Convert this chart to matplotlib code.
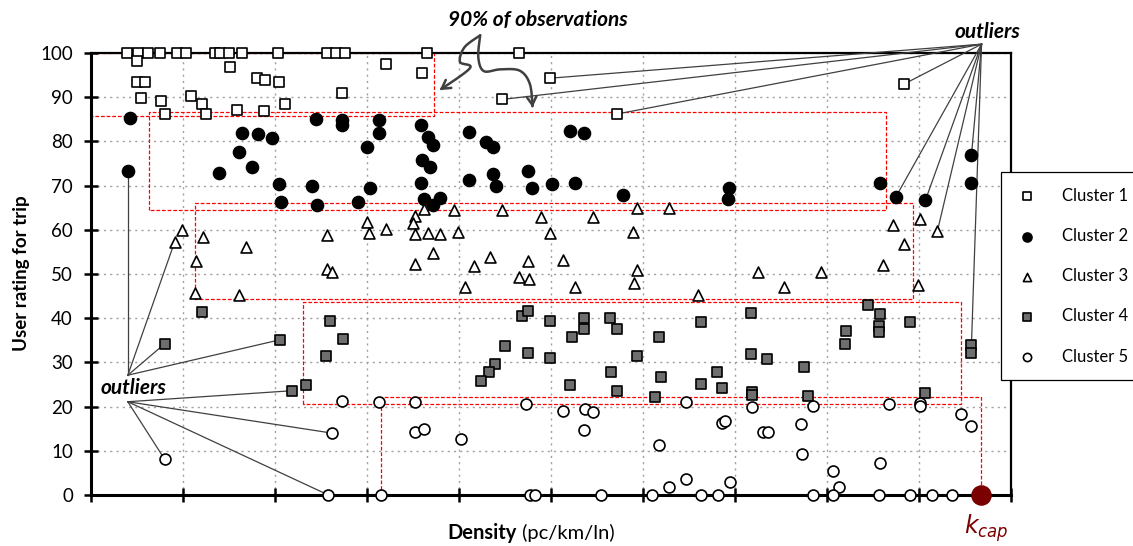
import numpy as np
import matplotlib
matplotlib.use("Agg")
import matplotlib.pyplot as plt
from matplotlib.path import Path
from matplotlib.patches import FancyArrowPatch

plt.rcParams['font.family'] = ['Lato', 'DejaVu Sans']

# cluster data (density, rating)
c1_x = [3.9, 5.1, 6.2, 7.5, 9.3, 10.3, 13.5, 14.0, 15.0, 16.4, 20.3, 25.7, 26.6, 27.6, 36.5, 46.5,
        5.0, 5.0, 5.9, 5.4, 7.6, 8.0, 10.9, 12.1, 12.5, 15.1, 15.9, 18.0, 18.9, 20.4, 18.8, 21.1,
        27.3, 32.1, 36.0, 44.7, 49.9, 57.2, 88.4]
c1_y = [100] * 16 + [98.3, 93.4, 93.4, 89.9, 89.2, 86.2, 90.3, 88.5, 86.1, 96.8, 87.1, 94.3, 93.9,
                     93.4, 86.8, 88.5, 90.9, 97.5, 95.5, 89.5, 94.3, 86.2, 93.0]

c2_x = [4.2, 4.0, 16.4, 18.1, 19.7, 16.1, 17.5, 13.9, 20.4, 20.6, 24.0, 24.6, 24.5, 27.3, 27.3, 29.0,
        30.0, 30.3, 31.3, 31.3, 35.9, 36.6, 37.2, 36.0, 36.8, 35.9, 36.2, 37.2, 37.9, 41.1, 41.1,
        42.9, 43.7, 43.7, 44.0, 47.5, 47.9, 50.1, 52.1, 53.6, 52.6, 57.8, 69.3, 69.2, 85.8, 87.5,
        90.7, 95.7, 95.7]
c2_y = [85.2, 73.4, 82.0, 81.6, 80.7, 77.7, 74.1, 72.8, 70.4, 66.4, 69.9, 65.6, 85.1, 84.8, 83.7, 66.4,
        78.8, 69.5, 84.8, 81.8, 83.7, 81.1, 79.2, 75.9, 74.3, 70.7, 66.9, 65.6, 67.1, 82.2, 71.3,
        79.9, 78.8, 72.6, 69.9, 73.4, 69.5, 70.3, 82.4, 81.8, 70.5, 67.9, 69.4, 66.9, 70.7, 67.5,
        66.7, 76.9, 70.7]

c3_x = [9.9, 9.1, 12.2, 11.4, 11.3, 16.8, 16.1, 25.7, 25.6, 26.2, 30.0, 30.2, 32.1, 35.2, 35.0, 35.2,
        36.6, 37.9, 37.2, 35.2, 36.2, 39.5, 39.9, 44.7, 48.9, 41.6, 43.4, 40.7, 47.5, 46.5, 47.6,
        54.6, 59.4, 62.8, 49.9, 58.9, 51.3, 52.6, 59.4, 59.0, 66.0, 72.5, 79.4, 75.3, 87.2, 90.1,
        88.4, 86.1, 89.9, 92.0]
c3_y = [60.0, 57.3, 58.3, 52.9, 45.8, 56.2, 45.2, 58.8, 51.1, 50.4, 61.8, 59.3, 60.2, 63.1, 61.6, 59.0,
        59.2, 59.0, 54.8, 52.3, 64.6, 64.5, 59.6, 64.5, 63.0, 51.7, 53.9, 47.1, 52.9, 49.4, 48.9,
        62.8, 64.9, 64.9, 59.3, 59.4, 53.2, 47.1, 50.9, 47.9, 45.2, 50.5, 50.5, 47.1, 61.1, 62.4,
        56.9, 52.0, 47.5, 59.7]

c4_x = [12.1, 8.0, 20.5, 21.9, 23.4, 26.0, 27.4, 25.5, 45.0, 46.8, 47.5, 47.5, 43.9, 43.3, 42.4, 49.9,
        49.9, 53.6, 53.6, 52.3, 56.4, 57.2, 56.5, 52.1, 57.2, 59.4, 61.7, 62.0, 61.3, 66.3, 66.3,
        68.0, 68.6, 71.7, 71.7, 73.5, 71.9, 71.9, 77.5, 77.9, 84.5, 85.8, 85.7, 85.7, 82.1, 82.0,
        89.0, 90.7, 95.7, 95.7]
c4_y = [41.5, 34.2, 35.1, 23.6, 25.0, 39.4, 35.2, 31.5, 33.6, 40.5, 41.6, 32.1, 29.6, 27.9, 25.8, 31.1,
        39.4, 40.1, 37.5, 35.8, 40.0, 37.5, 27.9, 24.9, 23.5, 31.5, 35.8, 26.8, 22.2, 39.1, 25.1,
        27.8, 24.1, 41.2, 31.8, 30.8, 23.4, 22.6, 29.0, 22.4, 43.0, 40.9, 38.2, 36.9, 37.2, 34.2,
        39.2, 23.1, 33.9, 32.1]

c5_x = [8.0, 26.2, 25.8, 27.3, 31.3, 31.5, 35.2, 35.2, 36.2, 40.2, 47.3, 47.7, 48.3, 51.3, 53.7, 54.6,
        53.6, 55.4, 61.7, 61.0, 62.8, 64.7, 64.7, 66.3, 68.1, 68.6, 68.9, 69.5, 71.8, 73.0, 73.6,
        77.2, 77.3, 78.5, 78.5, 80.6, 81.3, 80.6, 85.8, 85.7, 86.7, 89.0, 90.1, 90.1, 91.4, 93.6,
        94.6, 95.7]
c5_y = [8.1, 14.0, 0, 21.3, 21.1, 0, 21.0, 14.2, 14.9, 12.6, 20.7, 0, 0, 18.9, 19.4, 18.7,
        14.7, 0, 11.3, 0, 1.7, 3.6, 21.0, 0, 0, 16.4, 16.7, 2.9, 19.8, 14.2, 14.2,
        16.1, 9.2, 20.2, 0, 5.4, 1.7, 0, 7.2, 0, 20.5, 0, 20.9, 20.1, 0, 0,
        18.3, 15.5]

k_cap = (96.7, 0)

# dashed cluster boxes: x0, x1, y0, y1
boxes = [(0, 37.3, 85.8, 100), (6.3, 86.4, 64.5, 86.6), (11.3, 89.3, 44.3, 66.0),
         (23.0, 94.6, 20.7, 43.6), (31.5, 96.7, 0, 22.2)]

# outlier callouts
out_top = (96.8, 102.0)
out_top_pts = [(44.7, 89.5), (49.9, 94.3), (57.2, 86.2), (88.4, 93.0),
               (87.5, 67.5), (90.7, 66.7), (92.0, 59.7), (95.7, 76.9), (95.7, 33.9)]
out_bl1 = (4.0, 27.1)
out_bl1_pts = [(4.0, 73.4), (9.1, 57.3), (8.0, 34.2), (20.5, 35.1)]
out_bl2 = (4.0, 21.1)
out_bl2_pts = [(21.9, 23.6), (26.2, 14.0), (25.8, 0), (8.0, 8.1)]

fig = plt.figure(figsize=(11.33, 5.46), dpi=100)
ax = fig.add_axes([91 / 1133, 51 / 546, 920 / 1133, 442 / 546])
ax.set_xlim(0, 100)
ax.set_ylim(0, 100)

ax.set_xticks(np.arange(0, 101, 10))
ax.set_yticks(np.arange(0, 101, 10))
ax.set_xticklabels([])
ax.tick_params(axis='both', direction='inout', length=10, width=1.8, colors='black')
ax.tick_params(axis='y', labelsize=13.5, pad=8)
ax.tick_params(top=False, right=False)
ax.grid(True, color='#a0a0a0', linestyle=(0, (1.5, 3)), linewidth=1.0)
ax.set_axisbelow(True)
for s in ['left', 'bottom']:
    ax.spines[s].set_linewidth(2.2)
for s in ['top', 'right']:
    ax.spines[s].set_linewidth(1.6)

# red boxes
for x0, x1, y0, y1 in boxes:
    ax.plot([x0, x0, x1, x1, x0], [y0, y1, y1, y0, y0], color='red', ls=(0, (3, 1.5)),
            lw=0.9, zorder=2)

# outlier lines
for src, pts in [(out_top, out_top_pts), (out_bl1, out_bl1_pts), (out_bl2, out_bl2_pts)]:
    for px, py in pts:
        ax.plot([src[0], px], [src[1], py], color='#404040', lw=0.9, zorder=2.6, clip_on=False)

ms = 62
ew = 1.2
h1 = ax.scatter(c1_x, c1_y, marker='s', s=ms, facecolor='white', edgecolor='black', linewidth=ew,
                zorder=4, clip_on=False, label='Cluster 1')
h2 = ax.scatter(c2_x, c2_y, marker='o', s=ms + 12, facecolor='black', edgecolor='black', linewidth=ew,
                zorder=4, clip_on=False, label='Cluster 2')
h3 = ax.scatter(c3_x, c3_y, marker='^', s=ms, facecolor='white', edgecolor='black', linewidth=ew,
                zorder=4, clip_on=False, label='Cluster 3')
h4 = ax.scatter(c4_x, c4_y, marker='s', s=ms, facecolor='#6e6e6e', edgecolor='black', linewidth=ew,
                zorder=4, clip_on=False, label='Cluster 4')
h5 = ax.scatter(c5_x, c5_y, marker='o', s=ms, facecolor='white', edgecolor='black', linewidth=ew,
                zorder=4, clip_on=False, label='Cluster 5')
ax.scatter([k_cap[0]], [k_cap[1]], s=190, color='#7b0000', zorder=5, clip_on=False)
ax.text(k_cap[0] + 0.6, -4.0, r'$k_{cap}$', color='#7b0000', fontsize=17, ha='center', va='top')

# text callouts
ax.text(48.6, 107.5, '90% of observations', fontsize=15, fontweight='bold', style='italic',
        ha='center', va='center')
ax.text(97.4, 104.8, 'outliers', fontsize=15, fontweight='bold', style='italic',
        ha='center', va='center')
ax.text(4.6, 24.2, 'outliers', fontsize=15, fontweight='bold', style='italic',
        ha='center', va='center')


def smooth(pts, n=12):
    pts = np.array(pts, dtype=float)
    p = np.vstack([pts[0], pts, pts[-1]])
    out = []
    for i in range(1, len(p) - 2):
        p0, p1, p2, p3 = p[i - 1], p[i], p[i + 1], p[i + 2]
        for t in np.linspace(0, 1, n, endpoint=False):
            out.append(0.5 * ((2 * p1) + (-p0 + p2) * t + (2 * p0 - 5 * p1 + 4 * p2 - p3) * t ** 2
                              + (-p0 + 3 * p1 - 3 * p2 + p3) * t ** 3))
    out.append(pts[-1])
    return np.array(out)


squig_left = [(42.3, 104.0), (40.6, 101.3), (40.1, 98.0), (41.2, 96.6), (37.9, 91.6)]
squig_right = [(42.3, 104.0), (42.1, 99.0), (42.7, 95.9), (44.5, 96.3), (46.6, 96.0),
               (47.7, 93.0), (48.0, 87.7)]
for pts in [squig_left, squig_right]:
    v = smooth(pts)
    arr = FancyArrowPatch(path=Path(v), arrowstyle='->,head_length=6,head_width=3.5',
                          color='#404040', lw=1.8, zorder=6, clip_on=False)
    ax.add_patch(arr)

fig.text(22 / 1133, 1 - 273 / 546, 'User rating for trip', fontsize=13.5, fontweight='bold',
         rotation=90, ha='center', va='center')
t1 = fig.text(517 / 1133, 1 - 533 / 546, 'Density', fontsize=14.5, fontweight='bold',
              ha='right', va='center')
ax.annotate(' (pc/km/ln)', xy=(1, 0.5), xycoords=t1, fontsize=14.5, ha='left', va='center')

leg = ax.legend(handles=[h1, h2, h3, h4, h5], loc='upper left',
                bbox_to_anchor=(1001 / 1133, 1 - 172 / 546), bbox_transform=fig.transFigure,
                fontsize=12, labelspacing=1.45, borderpad=0.95, handletextpad=1.5,
                markerscale=0.75, fancybox=False, framealpha=1, edgecolor='black',
                borderaxespad=0, handlelength=1.2)
leg.get_frame().set_linewidth(0.9)

fig.savefig('out.png', dpi=100)
